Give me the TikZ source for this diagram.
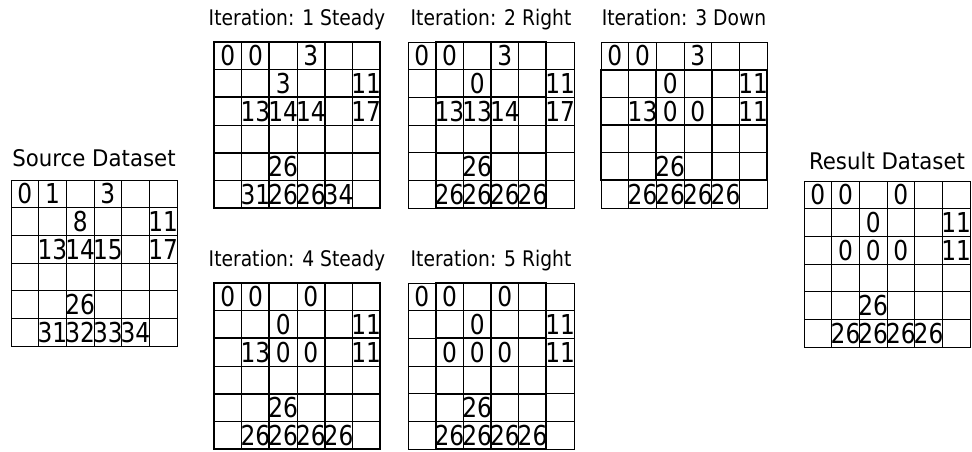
\documentclass[tikz,border=0pt]{standalone}
\usepackage{fontspec}
\setmainfont{DejaVu Sans}
\newfontfamily\numfont{DejaVu Sans}[FakeStretch=0.85]
\newfontfamily\itfont{DejaVu Sans}[FakeStretch=0.87]
\newfontfamily\dsfont{DejaVu Sans}[FakeStretch=0.93]
\tikzset{
  thinline/.style={line width=0.9pt, black},
  thickline/.style={line width=2.2pt, black},
  cellnum/.style={anchor=base, inner sep=0pt, font=\numfont\fontsize{27.4}{30}\selectfont},
  ittitle/.style={anchor=base, inner sep=0pt, font=\itfont\fontsize{21.5}{24}\selectfont},
  dstitle/.style={anchor=base, inner sep=0pt, font=\dsfont\fontsize{22.9}{25}\selectfont},
}
\def\cs{27.667}
% #1 name, #2 x, #3 y, #4 title, #5 title style, #6 title offset, #7 entries c/r/v
\newcommand\panel[7]{%
  \begin{scope}[shift={(#2,#3)}]
    \foreach \i in {0,...,6}{
      \draw[thinline] ({\i*\cs},0) -- ({\i*\cs},166);
      \draw[thinline] (0,{\i*\cs}) -- (166,{\i*\cs});
    }
    \draw[thinline] (0,0) rectangle (166,166);
    \node[#5] (#1-title) at (83,#6) {#4};
    \foreach \c/\r/\v in {#7}{
      \node[cellnum] (#1-\r-\c) at ({(\c+0.5)*\cs},{(\r+1)*\cs-4}) {\v};
    }
  \end{scope}}
% #1 x, #2 y, #3 blocks c/r
\newcommand\blocks[3]{%
  \begin{scope}[shift={(#1,#2)}]
    \foreach \c/\r in {#3}{
      \draw[thickline] ({\c*\cs},{\r*\cs}) rectangle ++({2*\cs},{2*\cs});
    }
  \end{scope}}
\begin{document}
\begin{tikzpicture}[x=1pt,y=-1pt]
\useasboundingbox (0,0) rectangle (972,451);
\fill[white] (0,0) rectangle (972,451);
% Source
\panel{src}{11}{180}{Source Dataset}{dstitle}{-14}{0/0/0,1/0/1,3/0/3,2/1/8,5/1/11,1/2/13,2/2/14,3/2/15,5/2/17,2/4/26,1/5/31,2/5/32,3/5/33,4/5/34}
% Iteration 1
\panel{it1}{214}{42}{Iteration: 1 Steady}{ittitle}{-17}{0/0/0,1/0/0,3/0/3,2/1/3,5/1/11,1/2/13,2/2/14,3/2/14,5/2/17,2/4/26,1/5/31,2/5/26,3/5/26,4/5/34}
\blocks{214}{42}{0/0,2/0,4/0,0/2,2/2,4/2,0/4,2/4,4/4}
% Iteration 2
\panel{it2}{408}{42}{Iteration: 2 Right}{ittitle}{-17}{0/0/0,1/0/0,3/0/3,2/1/0,5/1/11,1/2/13,2/2/13,3/2/14,5/2/17,2/4/26,1/5/26,2/5/26,3/5/26,4/5/26}
\blocks{408}{42}{1/0,3/0,1/2,3/2,1/4,3/4}
% Iteration 3
\panel{it3}{601}{42}{Iteration: 3 Down}{ittitle}{-17}{0/0/0,1/0/0,3/0/3,2/1/0,5/1/11,1/2/13,2/2/0,3/2/0,5/2/11,2/4/26,1/5/26,2/5/26,3/5/26,4/5/26}
\blocks{601}{42}{0/1,2/1,4/1,0/3,2/3,4/3}
% Iteration 4
\panel{it4}{214}{283}{Iteration: 4 Steady}{ittitle}{-17}{0/0/0,1/0/0,3/0/0,2/1/0,5/1/11,1/2/13,2/2/0,3/2/0,5/2/11,2/4/26,1/5/26,2/5/26,3/5/26,4/5/26}
\blocks{214}{283}{0/0,2/0,4/0,0/2,2/2,4/2,0/4,2/4,4/4}
% Iteration 5
\panel{it5}{408}{283}{Iteration: 5 Right}{ittitle}{-17}{0/0/0,1/0/0,3/0/0,2/1/0,5/1/11,1/2/0,2/2/0,3/2/0,5/2/11,2/4/26,1/5/26,2/5/26,3/5/26,4/5/26}
\blocks{408}{283}{1/0,3/0,1/2,3/2,1/4,3/4}
% Result
\panel{res}{804}{181}{Result Dataset}{dstitle}{-12}{0/0/0,1/0/0,3/0/0,2/1/0,5/1/11,1/2/0,2/2/0,3/2/0,5/2/11,2/4/26,1/5/26,2/5/26,3/5/26,4/5/26}
\end{tikzpicture}
\end{document}
